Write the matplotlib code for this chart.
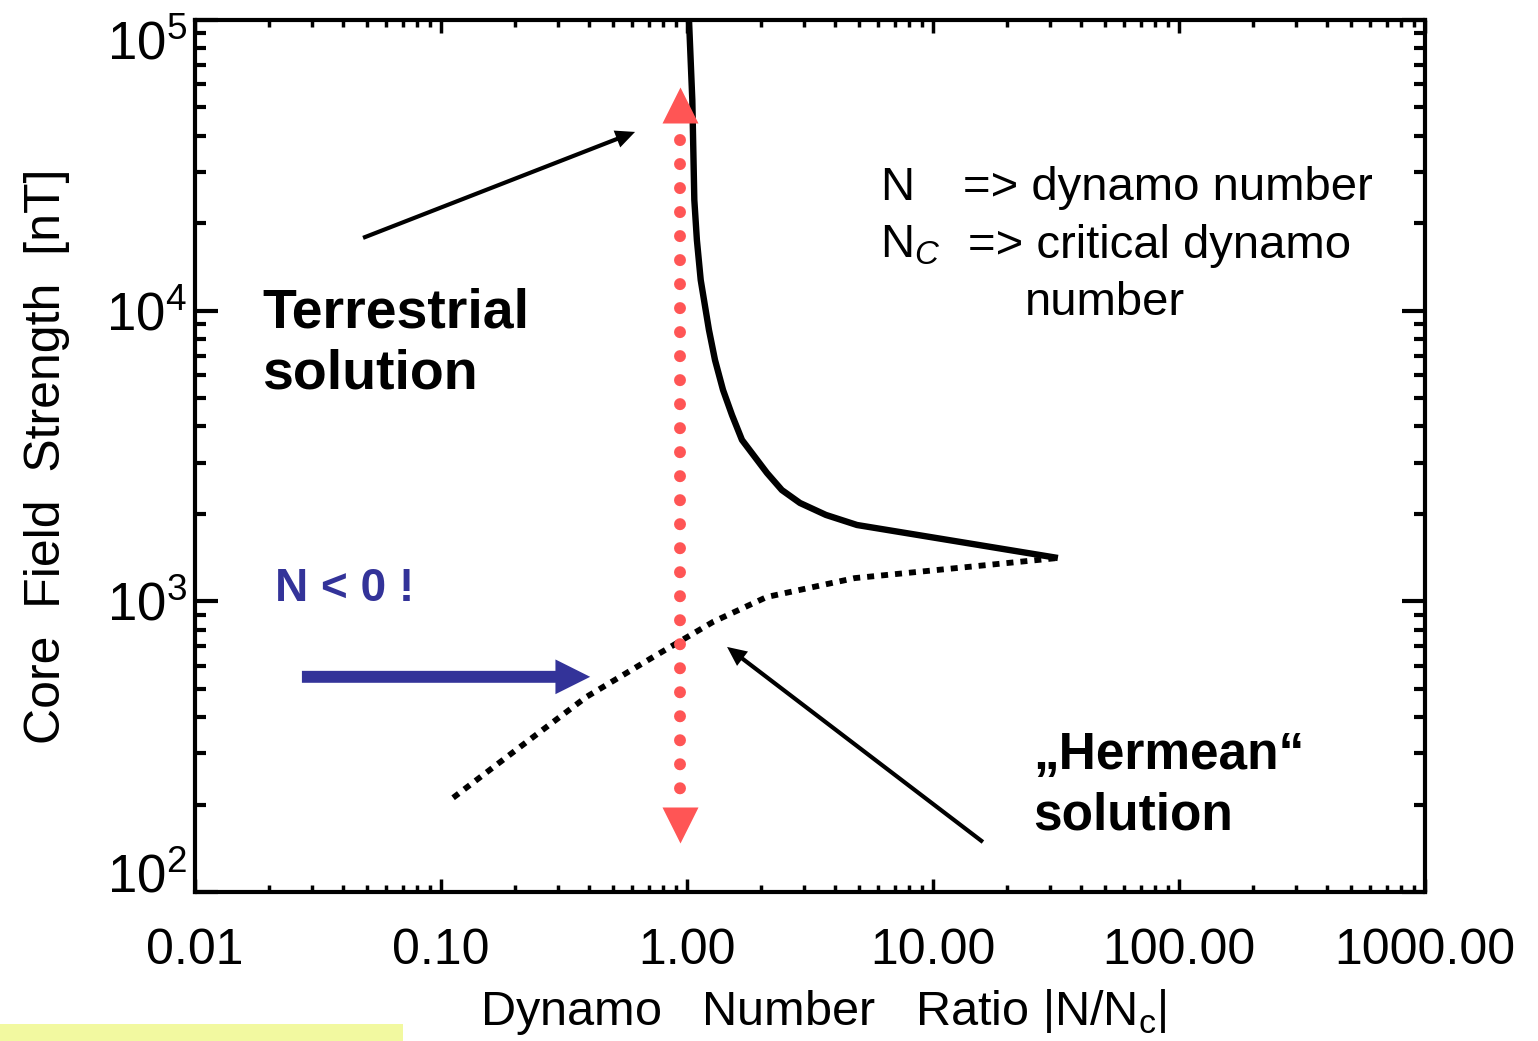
import matplotlib
matplotlib.use("Agg")
import matplotlib.pyplot as plt
from matplotlib.ticker import FixedLocator, FixedFormatter, LogLocator, NullFormatter
from matplotlib.patches import Rectangle

plt.rcParams['font.family'] = ['Liberation Sans', 'DejaVu Sans']
plt.rcParams['mathtext.fontset'] = 'custom'
plt.rcParams['mathtext.rm'] = 'Liberation Sans'
plt.rcParams['mathtext.it'] = 'Liberation Sans:italic'

# terrestrial (strong field) branch
solid_x = [1.019, 1.051, 1.071, 1.097, 1.137, 1.228, 1.30, 1.401, 1.524, 1.673,
           2.114, 2.43, 2.879, 3.67, 4.91, 32.2]
solid_y = [1e5, 53060, 24040, 17500, 12750, 8590, 6760, 5337, 4375, 3592,
           2765, 2415, 2180, 1983, 1831, 1410]

# "Hermean" (weak field) branch
dotted_x = [0.112, 0.21, 0.39, 0.73, 1.28, 2.11, 4.8, 13.7, 32.2]
dotted_y = [211, 316, 469, 644, 851, 1035, 1202, 1312, 1410]

# red double arrow at N/Nc ~ 1
red_x = 0.94
red_dots_y = [38600, 227]
red_head_top = 50800
red_head_bottom = 170

# annotation arrows (start, end)
terr_arrow = [(0.0482, 17800), (0.615, 41200)]
herm_arrow = [(15.96, 148.6), (1.455, 697)]
blue_arrow = [(0.0272, 550), (0.404, 550)]

xticks = [0.01, 0.1, 1, 10, 100, 1000]
xtick_labels = ['0.01', '0.10', '1.00', '10.00', '100.00', '1000.00']
yticks = [1e2, 1e3, 1e4, 1e5]
ytick_labels = [r'$\mathregular{10^{2}}$', r'$\mathregular{10^{3}}$',
                r'$\mathregular{10^{4}}$', r'$\mathregular{10^{5}}$']

fig = plt.figure(figsize=(15.38, 10.41), dpi=100)
ax = fig.add_axes([0.1268, 0.1431, 0.7997, 0.8377])
ax.set_xscale('log')
ax.set_yscale('log')
ax.set_xlim(0.01, 1000)
ax.set_ylim(1e2, 1e5)

ax.plot(solid_x, solid_y, color='black', lw=4.6, solid_capstyle='butt',
        solid_joinstyle='round')
ax.plot(dotted_x, dotted_y, color='black', lw=4.2, linestyle=(0, (1.2, 1.2)),
        dash_capstyle='butt')

red = '#ff5555'
ax.plot([red_x, red_x], red_dots_y, color=red, lw=8.6, linestyle=(0, (0.01, 2.0)),
        dash_capstyle='round')
ax.plot([red_x], [red_head_top], marker='^', ms=26, color=red, mec='none')
ax.plot([red_x], [red_head_bottom], marker='v', ms=26, color=red, mec='none')

black_style = 'simple,head_length=14,head_width=13,tail_width=3'
for (s, e) in [terr_arrow, herm_arrow]:
    ax.annotate('', xy=e, xytext=s,
                arrowprops=dict(arrowstyle=black_style, mutation_scale=1,
                                fc='black', ec='none', shrinkA=0, shrinkB=0))
ax.annotate('', xy=blue_arrow[1], xytext=blue_arrow[0],
            arrowprops=dict(arrowstyle='simple,head_length=25,head_width=25,tail_width=8.6',
                            mutation_scale=1, fc='#333399', ec='none',
                            shrinkA=0, shrinkB=0))

# texts
ax.text(0.0187, 11970, 'Terrestrial\nsolution', fontsize=40, fontweight='bold',
        va='top', ha='left', linespacing=1.22)
ax.text(25.5, 358, '\u201eHermean\u201c\nsolution', fontsize=37, fontweight='bold',
        va='top', ha='left', linespacing=1.3)
ax.text(0.0211, 1000, 'N < 0 !', fontsize=33, fontweight='bold', color='#333399',
        va='baseline', ha='left')

ax.text(6.09, 24050, 'N', fontsize=34, va='baseline')
ax.text(13.2, 24050, '=> dynamo number', fontsize=34, va='baseline')
ax.text(6.09, 15180, r'N$_C$', fontsize=34, va='baseline')
ax.text(13.9, 15180, '=> critical dynamo', fontsize=34, va='baseline')
ax.text(23.7, 9660, 'number', fontsize=34, va='baseline')

# axes styling
for sp in ax.spines.values():
    sp.set_linewidth(3)
ax.xaxis.set_major_locator(FixedLocator(xticks))
ax.xaxis.set_major_formatter(FixedFormatter(xtick_labels))
ax.xaxis.set_minor_locator(LogLocator(base=10, subs=range(2, 10), numticks=20))
ax.xaxis.set_minor_formatter(NullFormatter())
ax.yaxis.set_major_locator(FixedLocator(yticks))
ax.yaxis.set_major_formatter(FixedFormatter(ytick_labels))
ax.yaxis.set_minor_locator(LogLocator(base=10, subs=range(2, 10), numticks=20))
ax.yaxis.set_minor_formatter(NullFormatter())

ax.tick_params(axis='both', which='both', direction='in', top=True, right=True)
ax.tick_params(axis='x', which='major', length=9.5, width=2.5, labelsize=36, pad=26)
ax.tick_params(axis='x', which='minor', length=5, width=2.5)
ax.tick_params(axis='y', which='major', length=16.5, width=3, labelsize=38, pad=6)
ax.tick_params(axis='y', which='minor', length=8, width=3)

ylabs = ax.get_yticklabels()
ylabs[0].set_verticalalignment('baseline')
ylabs[-1].set_verticalalignment('top')

ax.set_xlabel(r'Dynamo   Number   Ratio $\mathregular{\left|N/N_c\right|}$', fontsize=35)
ax.set_ylabel('Core  Field  Strength  [nT]', fontsize=36)
ax.xaxis.set_label_coords(0.5106, -0.11)
ax.yaxis.set_label_coords(-0.102, 0.5)

fig.patches.append(Rectangle((0, 0), 403 / 1538, 17 / 1041, transform=fig.transFigure,
                             facecolor='#f2f9a0', edgecolor='none'))

fig.savefig('out.png', dpi=100)
